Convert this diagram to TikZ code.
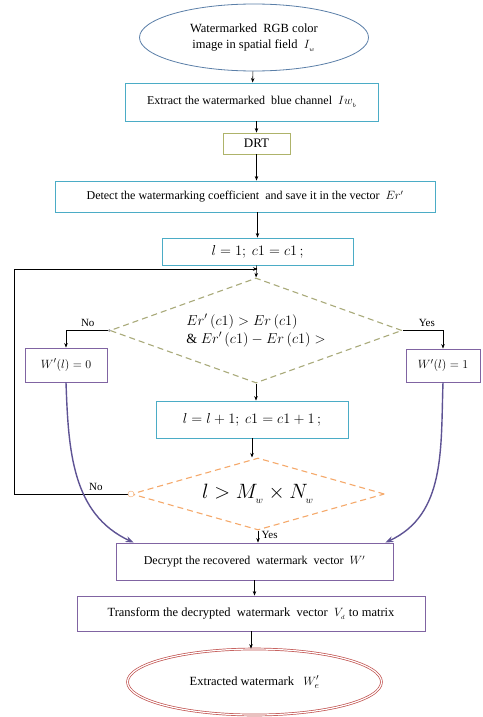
\documentclass[tikz,border=0pt]{standalone}
\usepackage{fontspec}
\setmainfont{Liberation Serif}
\usepackage{xcolor}
\usepackage{tikz}
\usetikzlibrary{positioning,arrows.meta,shapes.geometric}

\definecolor{tealb}{HTML}{4BACC6}
\definecolor{oliveb}{HTML}{AEB36A}
\definecolor{dshg}{HTML}{A9AA7A}
\definecolor{orgb}{HTML}{F5A96B}
\definecolor{purb}{HTML}{8064A2}
\definecolor{curv}{HTML}{5E5394}
\definecolor{blueb}{HTML}{5B7FA8}
\definecolor{redb}{HTML}{C0504D}

\begin{document}
\begin{tikzpicture}[x=1pt, y=-1pt,
  txt/.style={font=\fontsize{12}{14}\selectfont},
  box/.style={txt, draw=tealb, line width=0.9pt, fill=white, inner sep=2pt, align=center},
  pbox/.style={txt, draw=purb, line width=0.9pt, fill=white, inner sep=2pt, align=center},
  oval/.style={txt, ellipse, fill=white, inner sep=0pt, align=center},
  dia/.style={diamond, dashed, dash pattern=on 6pt off 4pt, line width=1.1pt, inner sep=0pt, fill=white},
  lbl/.style={font=\fontsize{11}{12}\selectfont},
  arr/.style={-{Stealth[length=4.5pt,width=3.5pt]}, line width=0.6pt},
  cur/.style={-{Stealth[length=8pt,width=6pt]}, line width=1.4pt, draw=curv}]
\useasboundingbox (0,0) rectangle (482,717);
% nodes
\node[oval, draw=blueb, line width=0.8pt, font=\fontsize{12.5}{15}\selectfont,
  minimum width=229pt, minimum height=67pt] (src) at (254,37.5)
  {Watermarked \ RGB color\\[1pt]image in spatial field \ {\large$I_{_w}$}};
\node[box, minimum width=253pt, minimum height=38pt] (ext) at (252,102)
  {Extract the watermarked \ blue channel \ $Iw_{_b}$};
\node[box, draw=oliveb, font=\fontsize{13}{15}\selectfont, minimum width=67pt, minimum height=21pt] (drt) at (256.5,143.5) {DRT};
\node[box, minimum width=380pt, minimum height=31pt] (det) at (245,196.5)
  {Detect the watermarking coefficient \ and save it in the vector \ {\large$Er'$}};
\node[box, font=\fontsize{14}{16}\selectfont, minimum width=191pt, minimum height=27pt] (ini) at (257.5,251.5)
  {$l = 1;\ c1 = c1\,;$};
\node[dia, draw=dshg, aspect=2.78, minimum width=292pt, minimum height=105pt, align=left,
  font=\fontsize{14}{18}\selectfont] (d1) at (256,330.5)
  {$Er'\,(c1) > Er\,(c1)$\\$\&\ Er'\,(c1) - Er\,(c1) >$};
\node[pbox, font=\fontsize{12.5}{14}\selectfont, minimum width=82pt, minimum height=34pt] (w0) at (66,365) {$W'(l) = 0$};
\node[pbox, font=\fontsize{12.5}{14}\selectfont, minimum width=74pt, minimum height=33pt] (w1) at (443,365.5) {$W'(l) = 1$};
\node[box, font=\fontsize{14}{16}\selectfont, minimum width=192pt, minimum height=37pt] (inc) at (252,419.5)
  {$l = l+1;\ c1 = c1+1\,;$};
\node[dia, draw=orgb, aspect=3.5, minimum width=253pt, minimum height=72pt,
  font=\fontsize{20}{22}\selectfont] (d2) at (258,494) {$l > M_{_w} \times N_{_w}$};
\node[pbox, minimum width=277pt, minimum height=37pt] (dec) at (254.5,561.5)
  {Decrypt the recovered \ watermark \ vector \ $W'$};
\node[pbox, font=\fontsize{12.5}{15}\selectfont, minimum width=348pt, minimum height=35pt] (trn) at (251,613.5)
  {Transform the decrypted \ watermark \ vector \ {\large$V_{_d}$} to matrix};
\node[oval, draw=redb, line width=0.7pt, double=white, double distance=1.2pt, font=\fontsize{12.5}{15}\selectfont,
  minimum width=254pt, minimum height=66pt] (out) at (254.5,682) {Extracted watermark \ \ $W_e'$};
\coordinate (jn) at (257.5,269);
\coordinate (lp) at (14,269);
% connectors
\draw[arr] (src) -- (ext);
\draw[arr] (ext.south -| drt) -- (drt);
\draw[arr] (drt) -- (det.north -| drt);
\draw[arr] (det.south -| ini) -- (ini);
\draw[arr] (ini) -- (d1.north);
\draw[arr] (d2.west) -| (lp) node[lbl, pos=0.15, above] {No} -- (jn);
\draw[arr] (d1.west) -| (w0.north) node[lbl, pos=0.25, above] {No};
\draw[arr] (d1.east) -| (w1.north) node[lbl, pos=0.3, above] {Yes};
\draw[arr] (d1.south) -- (d1.south |- inc.north);
\draw[arr] (inc) -- (inc.south |- d2.north);
\draw[arr] (d2.south) -- (d2.south |- dec.north) node[lbl, pos=0.4, right] {Yes};
\draw[arr] (dec) -- (dec.south |- trn.north);
\draw[arr] (trn) -- (trn.south |- out.north);
\draw[cur] (w0.south) to[out=-88, in=155] ([xshift=18pt]dec.north west);
\draw[cur] (w1.south) to[out=-92, in=25] ([xshift=-8pt]dec.north east);
\node[circle, draw=orgb, fill=white, minimum size=6pt, inner sep=0pt] (d2c) at (d2.west) {};
\node[circle, fill=gray!70, minimum size=3pt, inner sep=0pt] (d1c) at (d1.west) {};
\end{tikzpicture}
\end{document}
